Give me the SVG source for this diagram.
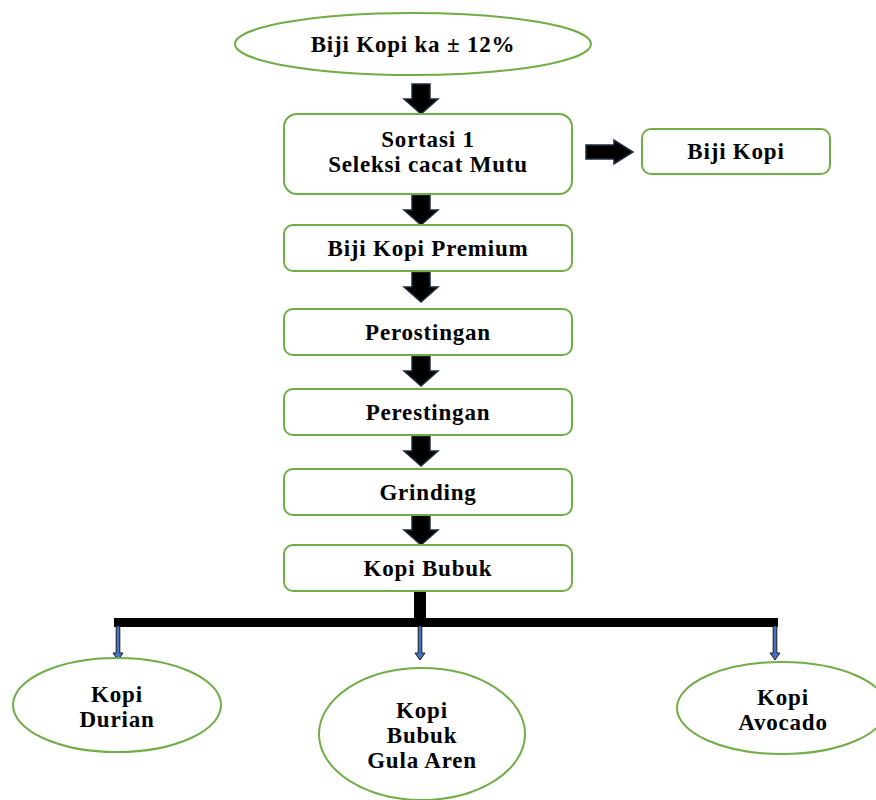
<svg xmlns="http://www.w3.org/2000/svg" width="876" height="800" viewBox="0 0 876 800">
<style>
.n{fill:#fff;stroke:#70AD47;stroke-width:2}
.t{font-family:"Liberation Serif","Times New Roman",serif;font-weight:bold;font-size:23px;letter-spacing:0.8px;fill:#000;text-anchor:middle}
.ba{fill:#000;stroke:#1F2D3D;stroke-width:1.5}
.sa{fill:#4472C4;stroke:#1a1a1a;stroke-width:1}
</style>
<defs>
<path id="dn" d="M-9,0 H9 V15 H17 L0,30 L-17,15 H-9 Z"/>
<path id="sm" d="M-1.8,0 H1.8 V27 H5 L0,34 L-5,27 H-1.8 Z"/>
</defs>
<g id="connectors">
<use href="#dn" class="ba" x="421" y="84"/>
<use href="#dn" class="ba" x="421" y="195"/>
<use href="#dn" class="ba" x="421" y="272"/>
<use href="#dn" class="ba" x="421" y="356"/>
<use href="#dn" class="ba" x="421" y="436"/>
<use href="#dn" class="ba" x="421" y="515"/>
<path class="ba" d="M586,145 H614 V140 L633,152 L614,164 V159 H586 Z"/>
<rect x="414" y="591" width="12" height="28" fill="#000"/>
<rect x="114" y="618" width="664" height="9" fill="#000"/>
<use href="#sm" class="sa" x="118" y="626"/>
<use href="#sm" class="sa" x="420" y="626"/>
<use href="#sm" class="sa" x="775" y="626"/>
</g>
<g id="n-start">
<ellipse class="n" cx="413" cy="44" rx="178" ry="31"/>
<text class="t" x="413" y="52">Biji Kopi ka ± 12%</text>
</g>
<g id="n-sortasi">
<rect class="n" x="284" y="114" width="288" height="80" rx="13"/>
<text class="t" x="428" y="147">Sortasi 1</text>
<text class="t" x="428" y="172">Seleksi cacat Mutu</text>
</g>
<g id="n-bijikopi">
<rect class="n" x="642" y="129" width="188" height="45" rx="9"/>
<text class="t" x="736" y="159">Biji Kopi</text>
</g>
<g id="n-premium">
<rect class="n" x="284" y="225" width="288" height="46" rx="9"/>
<text class="t" x="428" y="256">Biji Kopi Premium</text>
</g>
<g id="n-perostingan">
<rect class="n" x="284" y="309" width="288" height="46" rx="9"/>
<text class="t" x="428" y="340">Perostingan</text>
</g>
<g id="n-perestingan">
<rect class="n" x="284" y="389" width="288" height="46" rx="9"/>
<text class="t" x="428" y="420">Perestingan</text>
</g>
<g id="n-grinding">
<rect class="n" x="284" y="469" width="288" height="46" rx="9"/>
<text class="t" x="428" y="500">Grinding</text>
</g>
<g id="n-kopibubuk">
<rect class="n" x="284" y="545" width="288" height="46" rx="9"/>
<text class="t" x="428" y="576">Kopi Bubuk</text>
</g>
<g id="n-durian">
<ellipse class="n" cx="117" cy="705" rx="104" ry="47"/>
<text class="t" x="117" y="702">Kopi</text>
<text class="t" x="117" y="727">Durian</text>
</g>
<g id="n-gulaaren">
<ellipse class="n" cx="422" cy="734" rx="103" ry="66"/>
<text class="t" x="422" y="718">Kopi</text>
<text class="t" x="422" y="743">Bubuk</text>
<text class="t" x="422" y="768">Gula Aren</text>
</g>
<g id="n-avocado">
<ellipse class="n" cx="782" cy="708" rx="105" ry="46"/>
<text class="t" x="783" y="705">Kopi</text>
<text class="t" x="783" y="730">Avocado</text>
</g>
</svg>
